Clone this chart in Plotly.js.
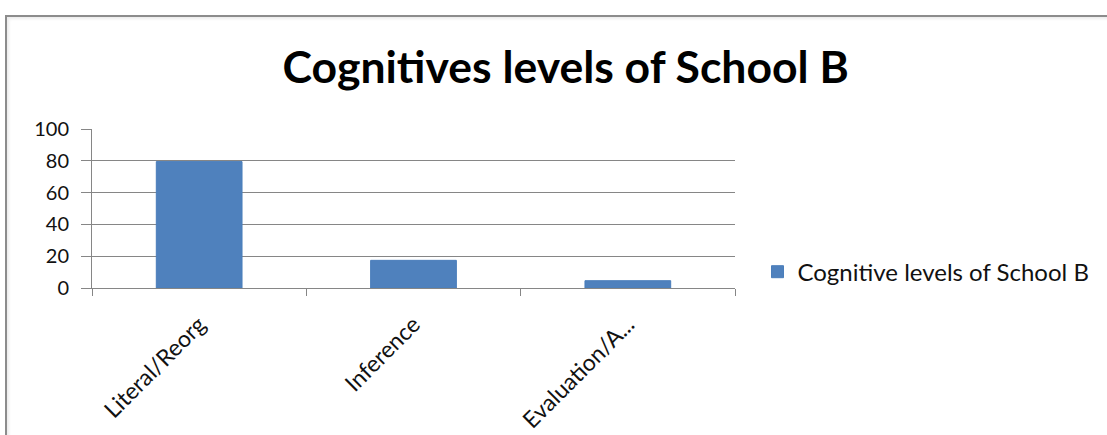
<!DOCTYPE html>
<html>
<head>
<meta charset="utf-8">
<script src="https://cdn.plot.ly/plotly-3.0.1.min.js"></script>
<style>
html,body{margin:0;padding:0;background:#fff;overflow:hidden;}
#chart{position:absolute;left:0;top:0;width:1107px;height:435px;}
#frame{position:absolute;left:5px;top:15px;width:1200px;height:600px;border:2px solid #8c8c8c;pointer-events:none;box-shadow:inset 2px 2px 3px rgba(0,0,0,0.08);}
</style>
</head>
<body>
<div id="chart"></div>
<div id="frame"></div>
<script>
var categories = ["Literal/Reorg", "Inference", "Evaluation/A..."];
var values = [79.5, 17.4, 4.6];
var seriesName = "Cognitive levels of School B";
var chartTitle = "Cognitives levels of School B";
var yTicks = [0, 20, 40, 60, 80, 100];

var FONT = "Lato, 'Open Sans', sans-serif";

var trace = {
  type: "bar",
  x: categories,
  y: values,
  name: seriesName,
  marker: {color: "#4F81BD", line: {color: "#4A7EBB", width: 1}},
  showlegend: true
};

var layout = {
  width: 1107,
  height: 435,
  margin: {l: 92, r: 372, t: 129, b: 147, pad: 0},
  paper_bgcolor: "rgba(0,0,0,0)",
  plot_bgcolor: "#ffffff",
  title: {
    text: "<b>" + chartTitle + "</b>",
    font: {family: FONT, size: 44.5, color: "#000000"},
    x: 0.511, xanchor: "center",
    y: 0.845, yanchor: "middle"
  },
  bargap: 0.6,
  xaxis: {
    type: "category",
    showline: true, linecolor: "#868686", linewidth: 1,
    ticks: "outside", tickson: "boundaries", ticklen: 7, tickcolor: "#868686",
    tickangle: -45,
    ticklabelstandoff: 13,
    tickfont: {family: FONT, size: 23, color: "#111111"},
    showgrid: false, zeroline: false
  },
  yaxis: {
    range: [0, 100],
    tickvals: yTicks,
    ticktext: yTicks.map(String),
    showline: true, linecolor: "#868686", linewidth: 1,
    ticks: "outside", ticklen: 10, tickcolor: "#868686",
    ticklabelstandoff: 8,
    showgrid: true, gridcolor: "#868686", gridwidth: 1,
    zeroline: false,
    tickfont: {family: FONT, size: 20, color: "#111111"}
  },
  showlegend: true,
  legend: {
    x: 1.035, xanchor: "left",
    y: 0.1, yanchor: "middle",
    font: {family: FONT, size: 24, color: "#111111"},
    bgcolor: "rgba(0,0,0,0)",
    itemwidth: 30
  }
};

Plotly.newPlot("chart", [trace], layout, {displayModeBar: false, staticPlot: true});
</script>
</body>
</html>
